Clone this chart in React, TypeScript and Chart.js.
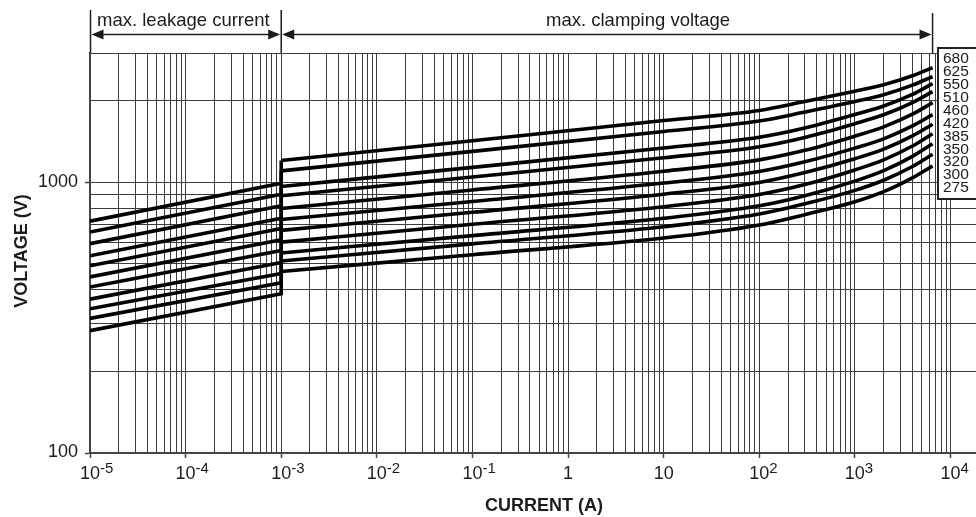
import React, { useEffect, useRef } from 'react';
import { Chart, registerables } from 'chart.js';

Chart.register(...registerables);

// ---- data ----
const RATINGS = ['680', '625', '550', '510', '460', '420', '385', '350', '320', '300', '275'];

// leakage region: current 1e-5 A .. 1e-3 A
const CURRENT_LEAK = [1e-5, 1e-3];
const LEAK_START = [718, 655, 593, 535, 491, 447, 410, 370, 341, 314, 283];
const LEAK_END = [990, 902, 818, 736, 675, 613, 560, 505, 460, 425, 387];

// clamping region: current 1e-3 A .. 6500 A
const CURRENT_CLAMP = [1e-3, 1e-1, 10, 100, 300, 1000, 2000, 4000, 6500];
const CLAMP_680 = [1202, 1422, 1690, 1841, 1986, 2168, 2291, 2472, 2651];
const CLAMP_625 = [1101, 1300, 1540, 1682, 1816, 1986, 2105, 2282, 2455];
const CLAMP_550 = [964, 1134, 1338, 1466, 1585, 1778, 1912, 2110, 2312];
const CLAMP_510 = [891, 1045, 1231, 1351, 1463, 1644, 1774, 1967, 2160];
const CLAMP_460 = [800, 936, 1098, 1209, 1311, 1479, 1601, 1783, 1967];
const CLAMP_420 = [728, 849, 993, 1096, 1190, 1336, 1446, 1613, 1776];
const CLAMP_385 = [664, 774, 903, 998, 1085, 1221, 1325, 1483, 1637];
const CLAMP_350 = [601, 699, 812, 901, 980, 1110, 1209, 1360, 1510];
const CLAMP_320 = [548, 635, 736, 818, 891, 1009, 1103, 1246, 1387];
const CLAMP_300 = [512, 592, 685, 763, 832, 933, 1017, 1143, 1268];
const CLAMP_275 = [468, 540, 622, 695, 759, 847, 923, 1038, 1148];
const CLAMP = [CLAMP_680, CLAMP_625, CLAMP_550, CLAMP_510, CLAMP_460, CLAMP_420, CLAMP_385, CLAMP_350, CLAMP_320, CLAMP_300, CLAMP_275];

// axes
const X_MIN = 1e-5;
const X_MAX = 18500;
const Y_MIN = 100;
const Y_MAX = 3000;
const X_DECADES = [1e-5, 1e-4, 1e-3, 1e-2, 1e-1, 1, 10, 100, 1000, 10000];
const X_LABEL_BASE = ['10', '10', '10', '10', '10', '1', '10', '10', '10', '10'];
const X_LABEL_EXP = ['-5', '-4', '-3', '-2', '-1', '', '', '2', '3', '4'];
const X_MULTIPLIERS = [1, 2, 3, 4, 5, 6, 7, 8, 9];
const Y_GRID = [100, 200, 300, 400, 500, 600, 700, 800, 900, 1000, 2000, 3000];
const Y_LABELS = [100, 1000];

// annotation ranges (A)
const LEAK_RANGE = [1e-5, 1e-3];
const CLAMP_RANGE = [1e-3, 6500];

const FONT = '"Liberation Sans", Arial, Helvetica, sans-serif';
const GRID = '#3c3c3c';
const AXIS = '#444444';
const INK = '#1c1c1c';

const isDecade = (v: number) => Math.abs(Math.log10(v) - Math.round(Math.log10(v))) < 1e-9;

export default function App() {
  const ref = useRef<HTMLCanvasElement | null>(null);

  useEffect(() => {
    if (!ref.current) return;

    const datasets: any[] = [];
    RATINGS.forEach((r, i) => {
      datasets.push({
        label: r + ' leak',
        data: [
          { x: CURRENT_LEAK[0], y: LEAK_START[i] },
          { x: CURRENT_LEAK[1], y: LEAK_END[i] },
          { x: CURRENT_CLAMP[0], y: CLAMP[i][0] },
        ],
        borderColor: '#000',
        borderWidth: 3.6,
        pointRadius: 0,
        tension: 0,
        borderJoinStyle: 'miter',
        fill: false,
      });
      datasets.push({
        label: r,
        data: CURRENT_CLAMP.map((c, j) => ({ x: c, y: CLAMP[i][j] })),
        borderColor: '#000',
        borderWidth: 3.6,
        pointRadius: 0,
        cubicInterpolationMode: 'monotone',
        fill: false,
      });
    });

    const xTickValues: number[] = [];
    X_DECADES.slice(0, -1).forEach((d) => X_MULTIPLIERS.forEach((m) => xTickValues.push(m * d)));
    xTickValues.push(X_DECADES[X_DECADES.length - 1]);

    const overlay = {
      id: 'overlay',
      afterDraw(chart: any) {
        const ctx = chart.ctx as CanvasRenderingContext2D;
        const xs = chart.scales.x;
        const ys = chart.scales.y;
        const ca = chart.chartArea;
        ctx.save();
        ctx.fillStyle = INK;
        ctx.strokeStyle = INK;

        // x tick labels
        X_DECADES.forEach((v, i) => {
          const px = xs.getPixelForValue(v);
          ctx.font = `18px ${FONT}`;
          ctx.textAlign = 'left';
          ctx.textBaseline = 'alphabetic';
          const base = X_LABEL_BASE[i];
          const bw = ctx.measureText(base).width;
          ctx.fillText(base, px - bw / 2, ca.bottom + 25.5);
          if (X_LABEL_EXP[i]) {
            ctx.font = `15px ${FONT}`;
            ctx.fillText(X_LABEL_EXP[i], px + bw / 2, ca.bottom + 19.5);
          }
        });

        // y tick labels
        ctx.font = `18px ${FONT}`;
        ctx.textAlign = 'right';
        ctx.textBaseline = 'middle';
        Y_LABELS.forEach((v) => {
          ctx.fillText(String(v), ca.left - 12, ys.getPixelForValue(v) - 0.5);
        });

        // axis titles
        ctx.font = `bold 18px ${FONT}`;
        ctx.textAlign = 'center';
        ctx.textBaseline = 'alphabetic';
        ctx.fillText('CURRENT (A)', 544, 511);
        ctx.save();
        ctx.translate(27, (ca.top + ca.bottom) / 2 - 2);
        ctx.rotate(-Math.PI / 2);
        ctx.fillText('VOLTAGE (V)', 0, 0);
        ctx.restore();

        // region markers on top
        const xa = xs.getPixelForValue(LEAK_RANGE[0]);
        const xb = xs.getPixelForValue(LEAK_RANGE[1]);
        const xc = xs.getPixelForValue(CLAMP_RANGE[1]);
        const ay = 34.5;
        ctx.lineWidth = 1.5;
        const vline = (x: number, y0: number) => {
          ctx.beginPath();
          ctx.moveTo(x, y0);
          ctx.lineTo(x, ca.top);
          ctx.stroke();
        };
        vline(xa + 0.5, 10);
        vline(xb, 10);
        vline(xc, 13);
        const head = (x: number, dir: number) => {
          ctx.beginPath();
          ctx.moveTo(x, ay);
          ctx.lineTo(x + dir * 12, ay - 5);
          ctx.lineTo(x + dir * 12, ay + 5);
          ctx.closePath();
          ctx.fill();
        };
        const arrow = (x1: number, x2: number) => {
          ctx.beginPath();
          ctx.moveTo(x1 + 4, ay);
          ctx.lineTo(x2 - 4, ay);
          ctx.stroke();
          head(x1 + 1, 1);
          head(x2 - 1, -1);
        };
        arrow(xa + 0.5, xb);
        arrow(xb, xc);

        ctx.font = `18.5px ${FONT}`;
        ctx.textAlign = 'left';
        ctx.textBaseline = 'alphabetic';
        ctx.fillText('max. leakage current', xa + 7, 26);
        ctx.fillText('max. clamping voltage', 546, 26);

        // rating box
        ctx.fillStyle = '#fff';
        ctx.fillRect(938, 48, 60, 151);
        ctx.lineWidth = 2;
        ctx.strokeStyle = '#222';
        ctx.strokeRect(938, 48, 60, 151);
        ctx.fillStyle = INK;
        ctx.font = `15.5px ${FONT}`;
        ctx.textAlign = 'left';
        ctx.textBaseline = 'middle';
        RATINGS.forEach((r, i) => {
          ctx.fillText(r, 943, 59 + i * 12.9);
        });

        ctx.restore();
      },
    };

    const chart = new Chart(ref.current, {
      type: 'line',
      data: { datasets },
      options: {
        animation: false,
        responsive: false,
        events: [],
        layout: { padding: { top: 53, left: 0, right: 0, bottom: 0 } },
        plugins: { legend: { display: false }, tooltip: { enabled: false }, title: { display: false } },
        scales: {
          x: {
            type: 'logarithmic',
            min: X_MIN,
            max: X_MAX,
            bounds: 'data',
            afterBuildTicks: (s: any) => {
              s.ticks = xTickValues.map((v) => ({ value: v }));
            },
            afterFit: (s: any) => {
              s.height = 64;
            },
            ticks: { display: false },
            grid: {
              color: GRID,
              lineWidth: 1,
              drawTicks: true,
              tickLength: 5,
              tickWidth: 1.5,
              tickColor: (c: any) => (c.tick && isDecade(c.tick.value) ? AXIS : 'rgba(0,0,0,0)'),
            },
            border: { display: true, color: AXIS, width: 2 },
          },
          y: {
            type: 'logarithmic',
            min: Y_MIN,
            max: Y_MAX,
            bounds: 'data',
            afterBuildTicks: (s: any) => {
              s.ticks = Y_GRID.map((v) => ({ value: v }));
            },
            afterFit: (s: any) => {
              s.width = 90;
            },
            ticks: { display: false },
            grid: {
              color: GRID,
              lineWidth: 1,
              drawTicks: true,
              tickLength: 5,
              tickWidth: 1.5,
              tickColor: (c: any) => (c.tick && Y_LABELS.includes(c.tick.value) ? AXIS : 'rgba(0,0,0,0)'),
            },
            border: { display: true, color: AXIS, width: 2 },
          },
        },
      },
      plugins: [overlay],
    } as any);

    return () => chart.destroy();
  }, []);

  return (
    <div style={{ position: 'fixed', left: 0, top: 0, width: 976, height: 517, background: '#fff' }}>
      <canvas ref={ref} width={976} height={517} style={{ display: 'block' }} />
    </div>
  );
}
